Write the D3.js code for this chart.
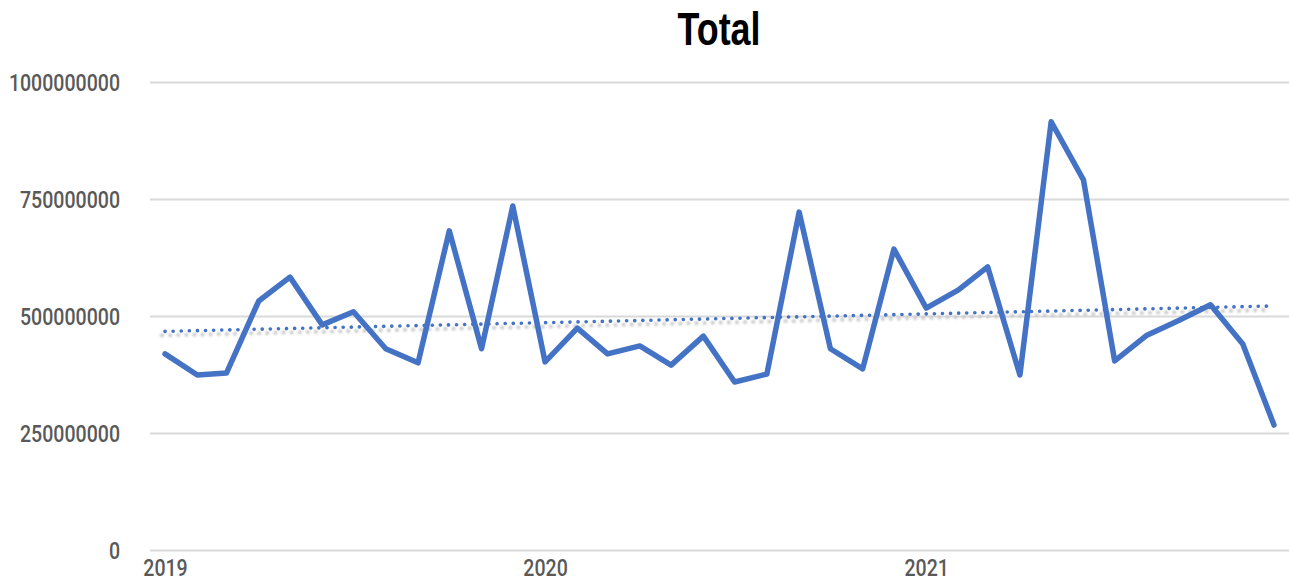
<!DOCTYPE html>
<html>
<head>
<meta charset="utf-8">
<script src="https://cdn.jsdelivr.net/npm/d3@7"></script>
<style>
  html, body { margin: 0; padding: 0; background: #ffffff; }
  svg { display: block; }
</style>
</head>
<body>
<svg id="chart" width="1289" height="582"></svg>
<script>
// Monthly totals, Jan 2019 – Dec 2021
const months = d3.range(36).map(i => new Date(2019, i, 1));
const totals = [
  419e6, 374e6, 378e6, 532e6, 583e6, 481e6, 509e6, 430e6, 400e6, 682e6, 430e6, 735e6,
  402e6, 474e6, 419e6, 436e6, 395e6, 457e6, 359e6, 376e6, 722e6, 430e6, 387e6, 643e6,
  517e6, 556e6, 605e6, 374e6, 915e6, 791e6, 404e6, 459e6, 491e6, 524e6, 440e6, 267e6
];
const yTicks = [0, 250000000, 500000000, 750000000, 1000000000];
const yearTicks = [new Date(2019, 0, 1), new Date(2020, 0, 1), new Date(2021, 0, 1)];
const title = "Total";

const svg = d3.select("#chart");
const W = 1289, H = 582;

const x = d3.scaleTime()
  .domain([months[0], months[months.length - 1]])
  .range([165, 1274]);
const y = d3.scaleLinear()
  .domain([0, 1000000000])
  .range([550, 82]);

const blue = "#4472C4";
const labelFont = "Roboto, 'Liberation Sans', sans-serif";

// Squeeze text horizontally to get a condensed look
function condense(sel, k) {
  sel.each(function () {
    const len = this.getComputedTextLength();
    d3.select(this).attr("textLength", len * k).attr("lengthAdjust", "spacingAndGlyphs");
  });
}

// Title
svg.append("text")
  .attr("x", 719).attr("y", 45)
  .attr("text-anchor", "middle")
  .style("font-family", "'Liberation Sans', sans-serif")
  .style("font-weight", "bold")
  .style("font-size", "46px")
  .style("fill", "#000")
  .text(title)
  .call(condense, 0.78);

// Horizontal gridlines + value labels
const yAxis = d3.axisLeft(y).tickValues(yTicks).tickSize(-(W - 150)).tickFormat(d3.format("d"));
const gy = svg.append("g").attr("transform", "translate(150,0)").call(yAxis);
gy.select(".domain").remove();
gy.selectAll(".tick line").attr("stroke", "#d9d9d9").attr("stroke-width", 2);
gy.selectAll(".tick text")
  .attr("x", -30).attr("dy", "0.36em")
  .style("font-family", labelFont)
  .style("font-weight", "500")
  .style("font-size", "23px")
  .style("fill", "#595959")
  .call(condense, 0.85);

// Year labels
const xAxis = d3.axisBottom(x).tickValues(yearTicks).tickSize(0).tickFormat(d3.timeFormat("%Y"));
const gx = svg.append("g").attr("transform", "translate(0,557)").call(xAxis);
gx.select(".domain").remove();
gx.selectAll(".tick text")
  .attr("dy", "0.71em")
  .style("font-family", labelFont)
  .style("font-weight", "500")
  .style("font-size", "23px")
  .style("fill", "#595959")
  .call(condense, 0.85);

// Least-squares trend over the monthly index
const n = totals.length;
const idx = d3.range(n);
const mx = d3.mean(idx), my = d3.mean(totals);
const slope = d3.sum(idx, i => (i - mx) * (totals[i] - my)) / d3.sum(idx, i => (i - mx) * (i - mx));
const icpt = my - slope * mx;
const trend = [0, n - 1].map(i => ({ d: months[i], v: icpt + slope * i }));

const line = d3.line().x(d => x(d.d)).y(d => y(d.v));

const defs = svg.append("defs");
defs.append("filter").attr("id", "soft")
  .attr("x", "-5%").attr("y", "-50%").attr("width", "110%").attr("height", "200%")
  .append("feGaussianBlur").attr("stdDeviation", 1.2);

// Trend shadow
svg.append("path")
  .datum(trend)
  .attr("d", line)
  .attr("transform", "translate(-3,4)")
  .attr("fill", "none")
  .attr("stroke", "#c8c8c8")
  .attr("stroke-width", 4)
  .attr("stroke-linecap", "round")
  .attr("stroke-dasharray", "0.1 8")
  .attr("filter", "url(#soft)");

// Trend line
svg.append("path")
  .datum(trend)
  .attr("d", line)
  .attr("fill", "none")
  .attr("stroke", blue)
  .attr("stroke-width", 3.6)
  .attr("stroke-linecap", "round")
  .attr("stroke-dasharray", "0.1 8");

// Monthly series
svg.append("path")
  .datum(months.map((d, i) => ({ d, v: totals[i] })))
  .attr("d", line)
  .attr("fill", "none")
  .attr("stroke", blue)
  .attr("stroke-width", 5.5)
  .attr("stroke-linejoin", "round")
  .attr("stroke-linecap", "round");
</script>
</body>
</html>
